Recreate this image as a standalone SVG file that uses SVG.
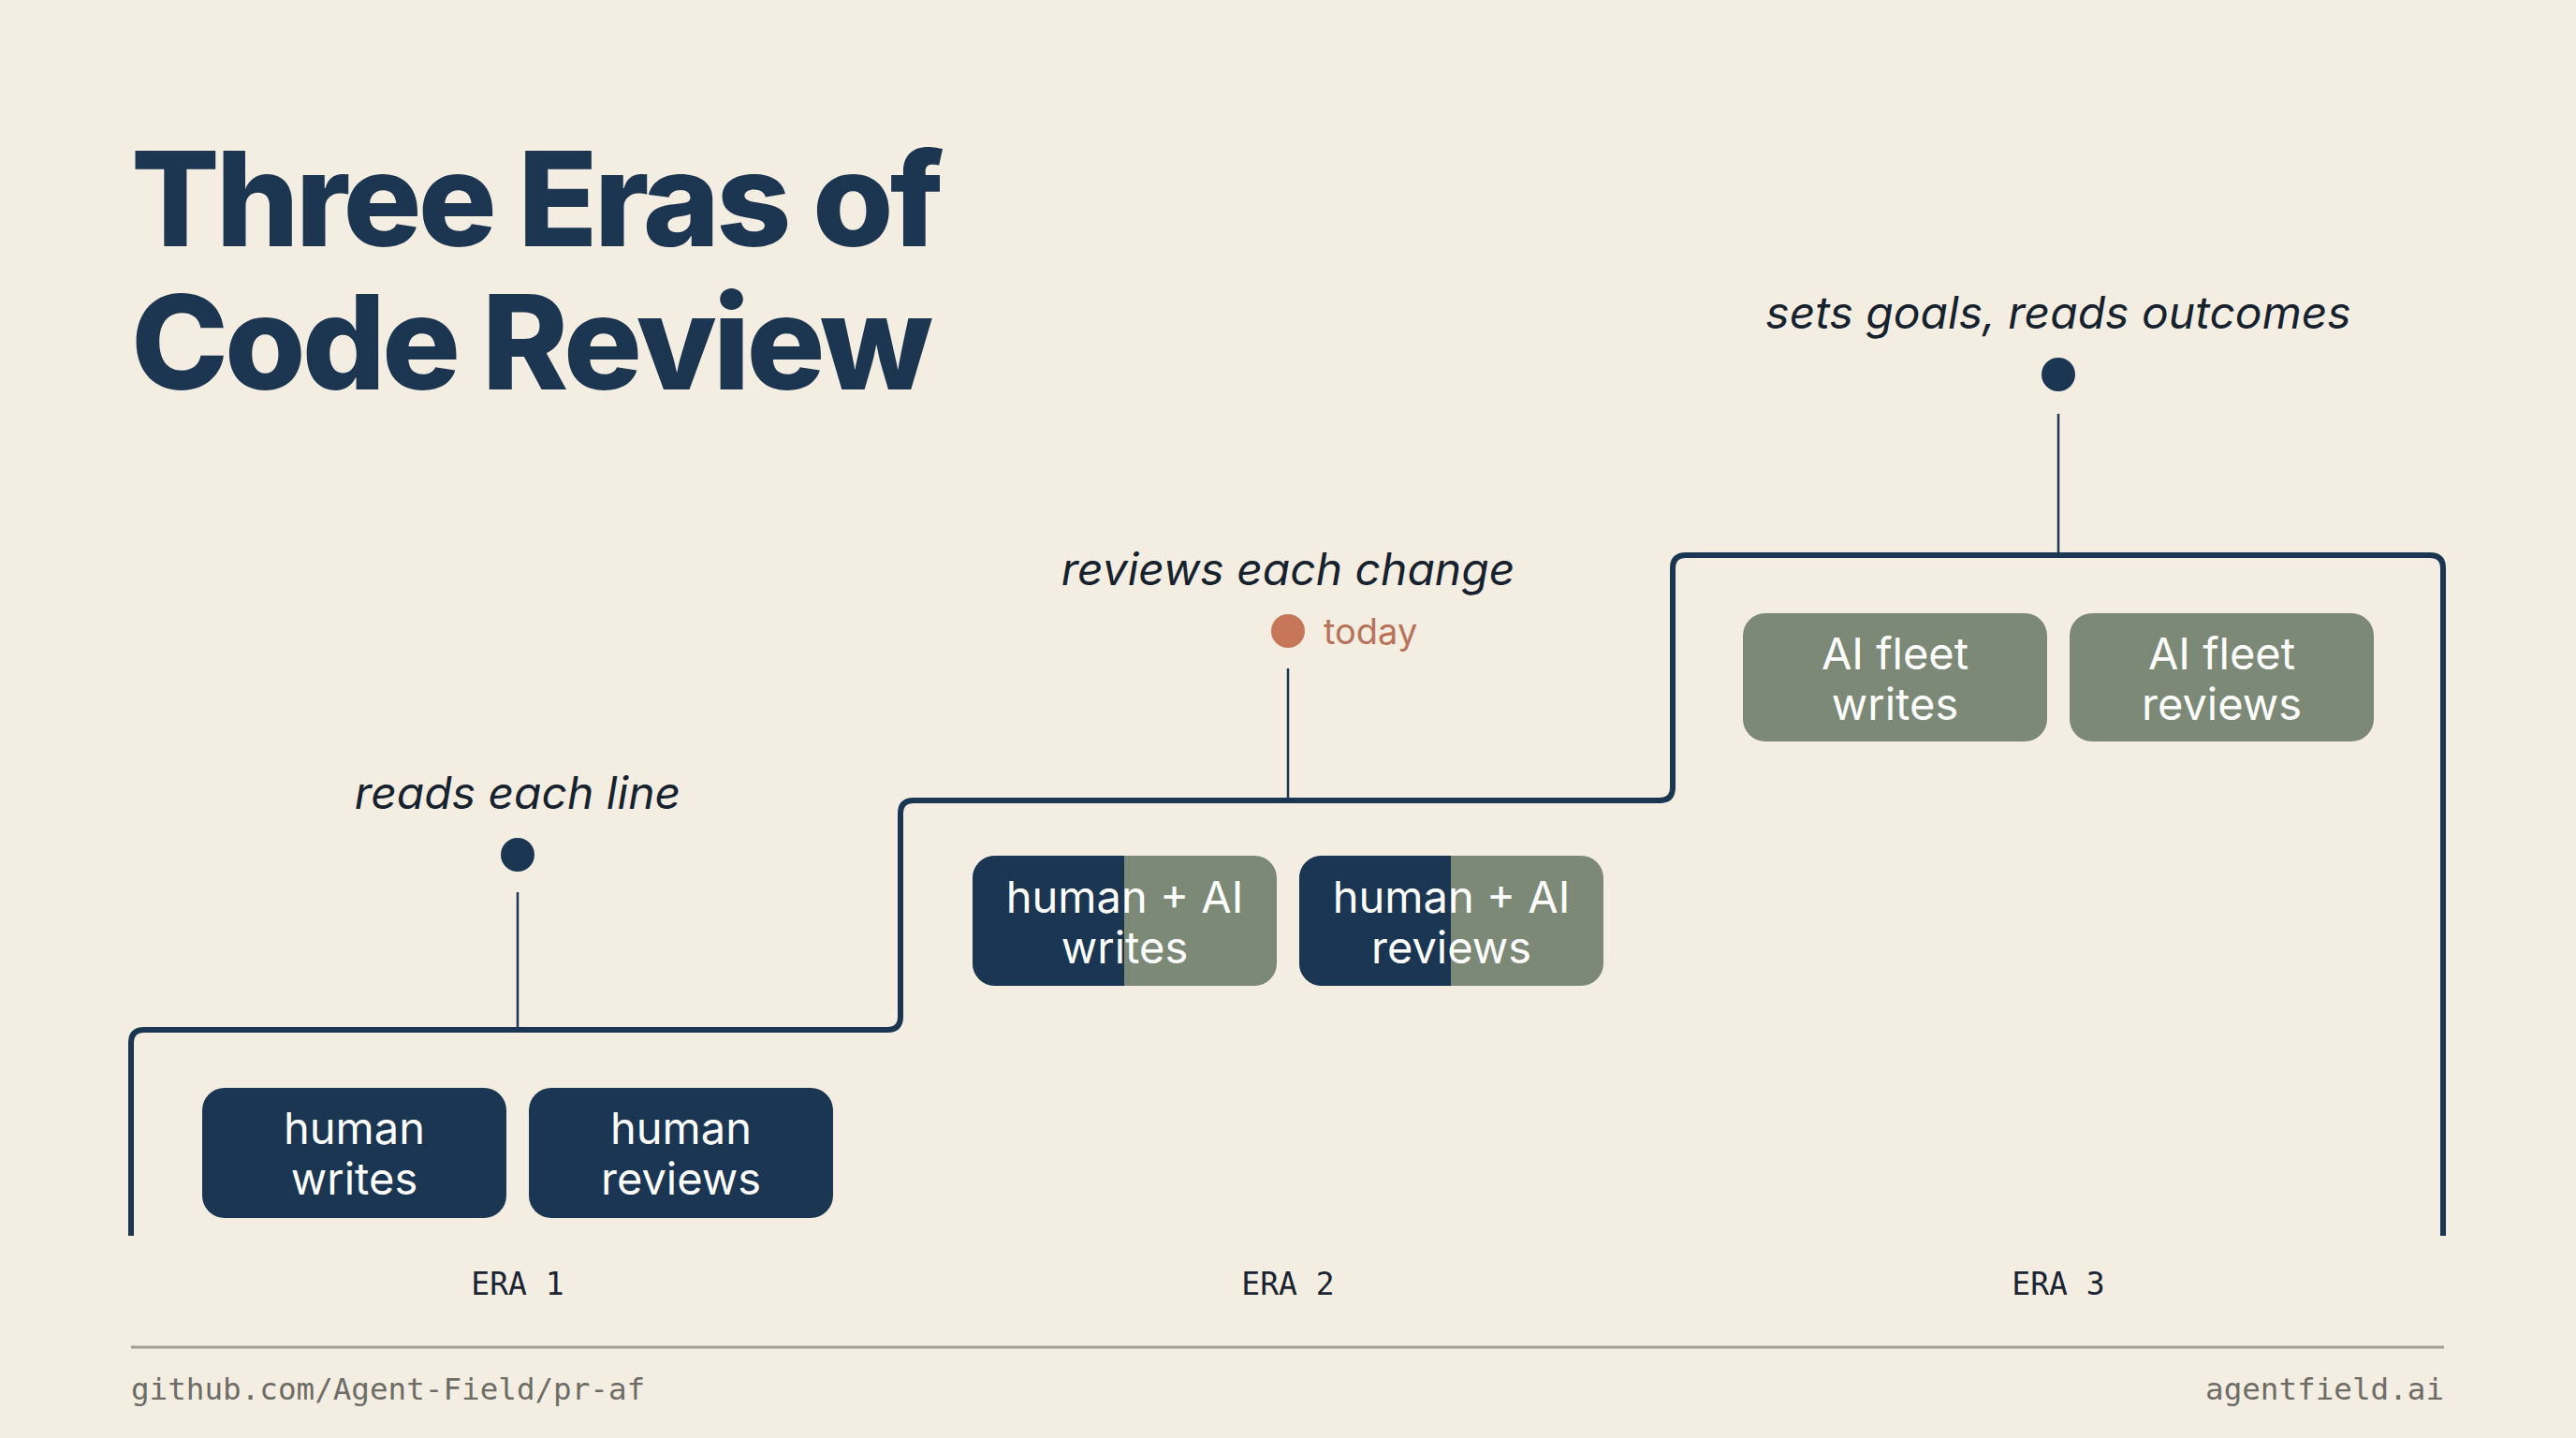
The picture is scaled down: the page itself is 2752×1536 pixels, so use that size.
<svg xmlns="http://www.w3.org/2000/svg" width="2752" height="1536" viewBox="0 0 2752 1536">
<defs>
<style>
.title{font-family:Inter,"Liberation Sans",sans-serif;font-weight:800;font-size:140px;fill:#1c3550;letter-spacing:-4px}
.note{font-family:Inter,"Liberation Sans",sans-serif;font-style:italic;font-size:48px;fill:#17222f;text-anchor:middle}
.lbl{font-family:Inter,"Liberation Sans",sans-serif;font-size:47px;fill:#ffffff;text-anchor:middle}
.era{font-family:"DejaVu Sans Mono",monospace;font-size:33px;fill:#1a2433;text-anchor:middle}
.foot{font-family:"DejaVu Sans Mono",monospace;font-size:32.6px;fill:#6e6c66}
.navy{fill:#1b3652}
.sage{fill:#7c8977}
.stem{stroke:#1b3652;stroke-width:2.5;fill:none}
.dot{fill:#1b3652}
</style>
<clipPath id="c2a"><rect x="1039" y="914" width="325" height="139" rx="24"/></clipPath>
<clipPath id="c2b"><rect x="1388" y="914" width="325" height="139" rx="24"/></clipPath>
</defs>
<rect width="2752" height="1536" fill="#f4eee2"/>

<g id="title">
<text class="title" x="140" y="263">Three Eras of</text>
<text class="title" x="140" y="416">Code Review</text>
</g>

<g id="connectors">
<path d="M140 1320 V1114 Q140 1100 154 1100 H948 Q962 1100 962 1086 V869 Q962 855 976 855 H1773 Q1787 855 1787 841 V607 Q1787 593 1801 593 H2596 Q2610 593 2610 607 V1320" fill="none" stroke="#1b3652" stroke-width="6" stroke-linejoin="round"/>
<line class="stem" x1="553" y1="953" x2="553" y2="1098"/>
<line class="stem" x1="1376" y1="714" x2="1376" y2="853"/>
<line class="stem" x1="2199" y1="442" x2="2199" y2="591"/>
<line x1="140" y1="1439" x2="2611" y2="1439" stroke="#a29c8e" stroke-width="3"/>
</g>

<g id="era1-note">
<text class="note" x="553" y="864">reads each line</text>
<circle class="dot" cx="553" cy="913" r="18"/>
</g>
<g id="era2-note">
<text class="note" x="1376" y="625">reviews each change</text>
<circle cx="1376" cy="674" r="18" fill="#c8765a"/>
<text x="1414" y="688" font-family="Inter,'Liberation Sans',sans-serif" font-size="38" fill="#b8735a">today</text>
</g>
<g id="era3-note">
<text class="note" x="2199" y="351">sets goals, reads outcomes</text>
<circle class="dot" cx="2199" cy="400" r="18"/>
</g>

<g id="human-writes">
<rect class="navy" x="216" y="1162" width="325" height="139" rx="24"/>
<text class="lbl" x="378.5" y="1222">human</text>
<text class="lbl" x="378.5" y="1276">writes</text>
</g>
<g id="human-reviews">
<rect class="navy" x="565" y="1162" width="325" height="139" rx="24"/>
<text class="lbl" x="727.5" y="1222">human</text>
<text class="lbl" x="727.5" y="1276">reviews</text>
</g>

<g id="hybrid-writes">
<g clip-path="url(#c2a)">
<rect class="sage" x="1039" y="914" width="325" height="139"/>
<rect class="navy" x="1039" y="914" width="162" height="139"/>
</g>
<text class="lbl" x="1201.5" y="975">human + AI</text>
<text class="lbl" x="1201.5" y="1029">writes</text>
</g>
<g id="hybrid-reviews">
<g clip-path="url(#c2b)">
<rect class="sage" x="1388" y="914" width="325" height="139"/>
<rect class="navy" x="1388" y="914" width="162" height="139"/>
</g>
<text class="lbl" x="1550.5" y="975">human + AI</text>
<text class="lbl" x="1550.5" y="1029">reviews</text>
</g>

<g id="fleet-writes">
<rect class="sage" x="1862" y="655" width="325" height="137" rx="24"/>
<text class="lbl" x="2024.5" y="715">AI fleet</text>
<text class="lbl" x="2024.5" y="769">writes</text>
</g>
<g id="fleet-reviews">
<rect class="sage" x="2211" y="655" width="325" height="137" rx="24"/>
<text class="lbl" x="2373.5" y="715">AI fleet</text>
<text class="lbl" x="2373.5" y="769">reviews</text>
</g>

<g id="era-labels">
<text class="era" x="553" y="1383">ERA 1</text>
<text class="era" x="1376" y="1383">ERA 2</text>
<text class="era" x="2199" y="1383">ERA 3</text>
</g>

<g id="footer">
<text class="foot" x="140" y="1495">github.com/Agent-Field/pr-af</text>
<text class="foot" x="2611" y="1495" text-anchor="end">agentfield.ai</text>
</g>
</svg>
